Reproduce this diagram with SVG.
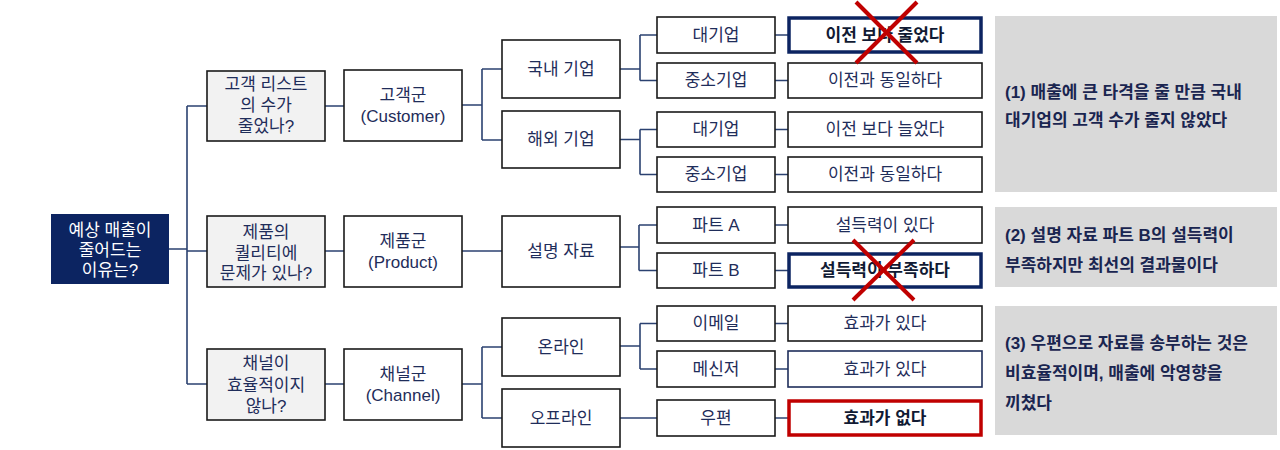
<svg xmlns="http://www.w3.org/2000/svg" width="1280" height="450" viewBox="0 0 1280 450">
<style>
text{font-family:"Liberation Sans","Noto Sans CJK KR",sans-serif;font-size:17px;fill:#1f2d5a;text-anchor:middle;dominant-baseline:central}
.box{fill:#ffffff;stroke:#1a1a1a;stroke-width:1.6}
.q{fill:#f2f2f2;stroke:#1a1a1a;stroke-width:1.6}
.hot{fill:#ffffff;stroke:#0c2461;stroke-width:3.5}
.bad{fill:#ffffff;stroke:#c00000;stroke-width:3.5}
.thin{fill:#ffffff;stroke:#1f2d5a;stroke-width:1.6}
.b{font-weight:bold;fill:#111a33}
.panel{fill:#d9d9d9}
.pt{font-weight:bold;text-anchor:start;font-size:17px;fill:#1a2550}
.con{fill:none;stroke:#2b4170;stroke-width:1.6}
.x{stroke:#c00000;stroke-width:4;stroke-linecap:butt}
</style>
<g id="connectors" class="con">
<path d="M169,249H187M187,106V384M187,106H207M187,251H207M187,384H207"/>
<path d="M325,106H344M325,251H344M325,384H344"/>
<path d="M462,105H482M482,69V140M482,69H502M482,140H502"/>
<path d="M462,251H502"/>
<path d="M462,384H482M482,347V418M482,347H502M482,418H502"/>
<path d="M620,69H640M640,35V80.5M640,35H657M640,80.5H657"/>
<path d="M620,139.5H640M640,129.5V174.5M640,129.5H657M640,174.5H657"/>
<path d="M620,247H639M639,225V270.5M639,225H657M639,270.5H657"/>
<path d="M620,346H640M640,323.5V369M640,323.5H657M640,369H657"/>
<path d="M620,418H657"/>
<path d="M775,35H788M775,80.5H788M775,129.5H788M775,174.5H788M775,225H788M775,270.5H788M775,323.5H788M775,369H788M775,418H788"/>
</g>
<g id="root"><rect x="51" y="214" width="118" height="70" fill="#0c2461"/><text x="110" y="230" style="fill:#ffffff">예상 매출이</text><text x="110" y="250" style="fill:#ffffff">줄어드는</text><text x="110" y="270" style="fill:#ffffff">이유는?</text></g>
<g id="q1"><rect class="q" x="207" y="71" width="118" height="70"/><text x="266" y="84">고객 리스트</text><text x="266" y="105">의 수가</text><text x="266" y="126">줄었나?</text></g>
<g id="q2"><rect class="q" x="207" y="216" width="118" height="71"/><text x="266" y="232">제품의</text><text x="266" y="253">퀄리티에</text><text x="266" y="273">문제가 있나?</text></g>
<g id="q3"><rect class="q" x="207" y="349" width="118" height="71"/><text x="266" y="363">채널이</text><text x="266" y="385">효율적이지</text><text x="266" y="406">않나?</text></g>
<g id="g1"><rect class="box" x="344" y="70" width="118" height="71"/><text x="403" y="95">고객군</text><text x="403" y="116">(Customer)</text></g>
<g id="g2"><rect class="box" x="344" y="216" width="118" height="71"/><text x="403" y="241">제품군</text><text x="403" y="262">(Product)</text></g>
<g id="g3"><rect class="box" x="344" y="349" width="118" height="71"/><text x="403" y="374">채널군</text><text x="403" y="395">(Channel)</text></g>
<g id="c1"><rect class="box" x="502" y="40" width="118" height="58"/><text x="561" y="69">국내 기업</text></g>
<g id="c2"><rect class="box" x="502" y="111" width="118" height="57"/><text x="561" y="139.5">해외 기업</text></g>
<g id="c3"><rect class="box" x="502" y="216" width="118" height="71"/><text x="561" y="251">설명 자료</text></g>
<g id="c4"><rect class="box" x="502" y="318" width="118" height="58"/><text x="561" y="347">온라인</text></g>
<g id="c5"><rect class="box" x="502" y="389" width="118" height="58"/><text x="561" y="418">오프라인</text></g>
<g id="d1"><rect class="box" x="657" y="17" width="118" height="36"/><text x="716" y="35">대기업</text></g>
<g id="d2"><rect class="box" x="657" y="63" width="118" height="35"/><text x="716" y="80.5">중소기업</text></g>
<g id="d3"><rect class="box" x="657" y="112" width="118" height="35"/><text x="716" y="129.5">대기업</text></g>
<g id="d4"><rect class="box" x="657" y="157" width="118" height="35"/><text x="716" y="174.5">중소기업</text></g>
<g id="d5"><rect class="box" x="657" y="207" width="118" height="36"/><text x="716" y="225">파트 A</text></g>
<g id="d6"><rect class="box" x="657" y="253" width="118" height="35"/><text x="716" y="270.5">파트 B</text></g>
<g id="d7"><rect class="box" x="657" y="306" width="118" height="35"/><text x="716" y="323.5">이메일</text></g>
<g id="d8"><rect class="box" x="657" y="351" width="118" height="36"/><text x="716" y="369">메신저</text></g>
<g id="d9"><rect class="box" x="657" y="400" width="118" height="36"/><text x="716" y="418">우편</text></g>
<g id="e1"><rect class="hot" x="789" y="18" width="192" height="34"/><text class="b" x="885" y="35">이전 보다 줄었다</text></g>
<g id="e2"><rect class="box" x="788" y="63" width="194" height="35"/><text x="885" y="80.5">이전과 동일하다</text></g>
<g id="e3"><rect class="box" x="788" y="112" width="194" height="35"/><text x="885" y="129.5">이전 보다 늘었다</text></g>
<g id="e4"><rect class="box" x="788" y="157" width="194" height="35"/><text x="885" y="174.5">이전과 동일하다</text></g>
<g id="e5"><rect class="box" x="788" y="207" width="194" height="36"/><text x="885" y="225">설득력이 있다</text></g>
<g id="e6"><rect class="hot" x="789" y="254" width="192" height="33"/><text class="b" x="885" y="270.5">설득력이 부족하다</text></g>
<g id="e7"><rect class="box" x="788" y="306" width="194" height="35"/><text x="885" y="323.5">효과가 있다</text></g>
<g id="e8"><rect class="thin" x="788" y="351" width="194" height="36"/><text x="885" y="369">효과가 있다</text></g>
<g id="e9"><rect class="bad" x="789" y="401" width="192" height="34"/><text class="b" x="885" y="418">효과가 없다</text></g>
<g id="cross1"><line class="x" x1="856" y1="2" x2="917" y2="63"/><line class="x" x1="917" y1="2" x2="856" y2="63"/></g>
<g id="cross2"><line class="x" x1="853" y1="240" x2="914" y2="300"/><line class="x" x1="914" y1="240" x2="853" y2="300"/></g>
<g id="p1"><rect class="panel" x="995" y="16" width="282" height="176"/><text class="pt" x="1005" y="92">(1) 매출에 큰 타격을 줄 만큼 국내</text><text class="pt" x="1005" y="120">대기업의 고객 수가 줄지 않았다</text></g>
<g id="p2"><rect class="panel" x="995" y="207" width="282" height="80"/><text class="pt" x="1005" y="235">(2) 설명 자료 파트 B의 설득력이</text><text class="pt" x="1005" y="265">부족하지만 최선의 결과물이다</text></g>
<g id="p3"><rect class="panel" x="995" y="306" width="282" height="129"/><text class="pt" x="1005" y="343">(3) 우편으로 자료를 송부하는 것은</text><text class="pt" x="1005" y="373">비효율적이며, 매출에 악영향을</text><text class="pt" x="1005" y="403">끼쳤다</text></g>
</svg>
